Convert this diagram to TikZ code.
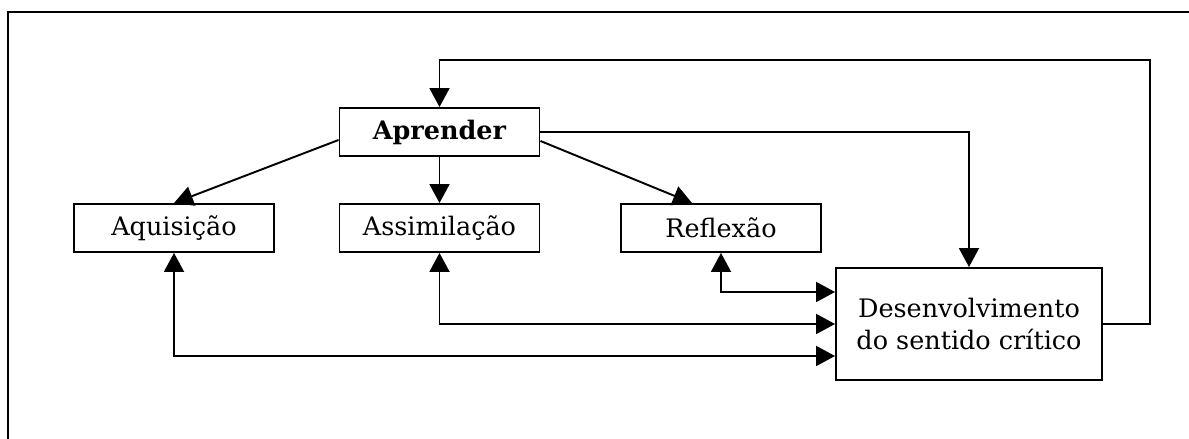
\documentclass[tikz,border=0pt]{standalone}
\usepackage{fontspec}
\setmainfont{DejaVu Serif}
\usepackage{tikz}
\usetikzlibrary{arrows.meta, positioning}

\tikzset{
  caixa/.style={draw, line width=1.1pt, minimum height=0.96cm, minimum width=4cm,
    inner sep=2pt, font=\fontsize{14.5}{18.2}\selectfont, align=center},
  seta/.style={line width=1.1pt, -{Triangle[length=0.38cm, width=0.4cm]}},
  setadupla/.style={line width=1.1pt, {Triangle[length=0.38cm, width=0.4cm]}-{Triangle[length=0.38cm, width=0.4cm]}}
}

\begin{document}
\begin{tikzpicture}
    \useasboundingbox (0,0) rectangle (23.78,8.78);
    % Draw outer frame
    \draw[line width=1.1pt] (0.16,0) -- (0.16,8.54) -- (23.78,8.54);

    % Draw boxes
    \node[caixa] (aprender) at (8.79,6.14) {\bfseries Aprender};
    \node[caixa] (aquisicao) at (3.48,4.22) {Aquisição};
    \node[caixa] (assimilacao) at (8.79,4.22) {Assimilação};
    \node[caixa] (reflexao) at (14.42,4.22) {Reflexão};
    \node[caixa, minimum width=5.32cm, minimum height=2.24cm] (desenv) at (19.38,2.30)
        {Desenvolvimento\\do sentido crítico};

    \coordinate (canto) at (23.0,7.58);

    % Draw arrows
    \draw[seta] ([yshift=-0.16cm]aprender.west) -- (aquisicao.north);
    \draw[seta] (aprender) -- (assimilacao);
    \draw[seta] ([yshift=-0.18cm]aprender.east) -- ([xshift=-0.58cm]reflexao.north);
    \draw[seta] (aprender.east) -| (desenv.north);
    \draw[seta] (desenv.east) -| (canto) -| (aprender.north);

    \draw[setadupla] (reflexao.south) |- ([yshift=0.64cm]desenv.west);
    \draw[setadupla] (assimilacao.south) |- (desenv.west);
    \draw[setadupla] (aquisicao.south) |- ([yshift=-0.64cm]desenv.west);
\end{tikzpicture}
\end{document}
